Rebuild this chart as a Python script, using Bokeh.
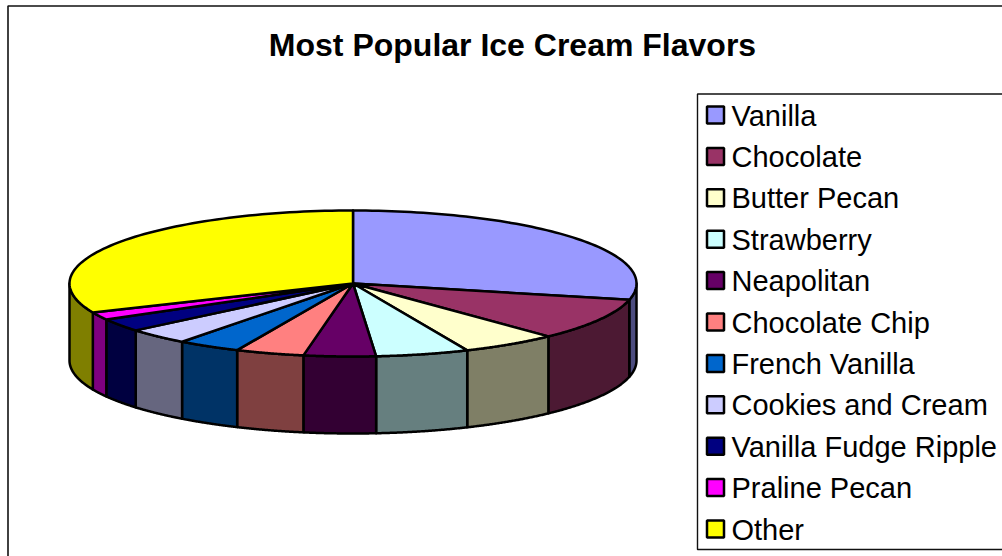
import numpy as np
from bokeh.core.properties import value
from bokeh.embed import file_html
from bokeh.models import ColumnDataSource
from bokeh.plotting import figure
from bokeh.resources import INLINE

flavors = ["Vanilla", "Chocolate", "Butter Pecan", "Strawberry", "Neapolitan",
           "Chocolate Chip", "French Vanilla", "Cookies and Cream",
           "Vanilla Fudge Ripple", "Praline Pecan", "Other"]
shares = [28.6, 9.3, 5.5, 5.3, 4.1, 3.9, 3.6, 3.6, 2.9, 1.7, 31.5]
top_colors = ["#9999FF", "#993366", "#FFFFCC", "#CCFFFF", "#660066", "#FF8080",
              "#0066CC", "#CCCCFF", "#000080", "#FF00FF", "#FFFF00"]
side_colors = ["#4C4C7F", "#4C1933", "#7F7F66", "#667F7F", "#330033", "#7F4040",
               "#003366", "#66667F", "#000040", "#7F007F", "#7F7F00"]
chart_title = "Most Popular Ice Cream Flavors"

WIDTH, HEIGHT = 1002, 556
CX, CY, RX, RY, DEPTH = 352.5, 283.0, 283.5, 73.0, 77.0

p = figure(width=WIDTH, height=HEIGHT, x_range=(0, WIDTH), y_range=(HEIGHT, 0),
           output_backend="svg", toolbar_location=None, min_border=0,
           background_fill_color="white", border_fill_color="white",
           outline_line_color=None)
p.axis.visible = False
p.grid.visible = False


def rim(angle):
    """Point on the top ellipse, angle measured clockwise from twelve o'clock."""
    return CX + RX * np.sin(angle), CY - RY * np.cos(angle)


# Outer chart frame; its right and bottom edges fall outside the page.
p.line([7.5, 7.5, WIDTH + 20], [HEIGHT + 20, 5.5, 5.5], line_color="#111111", line_width=1.6)

# Pie: wall pieces for the visible front half first, then the top face over them.
edges = np.cumsum([0.0] + shares) / sum(shares) * 2 * np.pi
top_xs, top_ys, side_xs, side_ys, side_fill = [], [], [], [], []
for i in range(len(shares)):
    a0, a1 = edges[i], edges[i + 1]
    t = np.linspace(a0, a1, 80)
    x, y = rim(t)
    top_xs.append(np.r_[CX, x, CX])
    top_ys.append(np.r_[CY, y, CY])

    lo, hi = max(a0, np.pi / 2), min(a1, 3 * np.pi / 2)
    if hi > lo:
        t = np.linspace(lo, hi, 80)
        x, y = rim(t)
        side_xs.append(np.r_[x, x[::-1], x[0]])
        side_ys.append(np.r_[y, y[::-1] + DEPTH, y[0]])
        side_fill.append(side_colors[i])

p.patches(side_xs, side_ys, fill_color=side_fill, line_color="black",
          line_width=2.5, line_join="round")
p.patches(top_xs, top_ys, fill_color=top_colors, line_color="black",
          line_width=2.5, line_join="round")

# Chart heading
p.text([512], [44.5], text=[chart_title], text_font=value("Liberation Sans"),
       text_font_size="32px", text_font_style="bold", text_align="center",
       text_baseline="alphabetic", text_color="black")

# Legend box, open towards the right edge of the page
p.line([WIDTH + 20, 697, 697, WIDTH + 20], [93.5, 93.5, 549, 549],
       line_color="#111111", line_width=1.4)

rows = 115 + 41.4 * np.arange(len(flavors))
legend = ColumnDataSource(dict(x=[715] * len(flavors), y=rows - 0.5, fill=top_colors,
                               tx=[731] * len(flavors), ty=rows, label=flavors))
p.rect("x", "y", width=17, height=17, source=legend, fill_color="fill",
       line_color="black", line_width=2.5)
p.text("tx", "ty", text="label", source=legend, text_font=value("Liberation Sans"),
       text_font_size="29px", text_baseline="alphabetic", text_color="black")

open("out.html", "w").write(file_html(p, INLINE))
